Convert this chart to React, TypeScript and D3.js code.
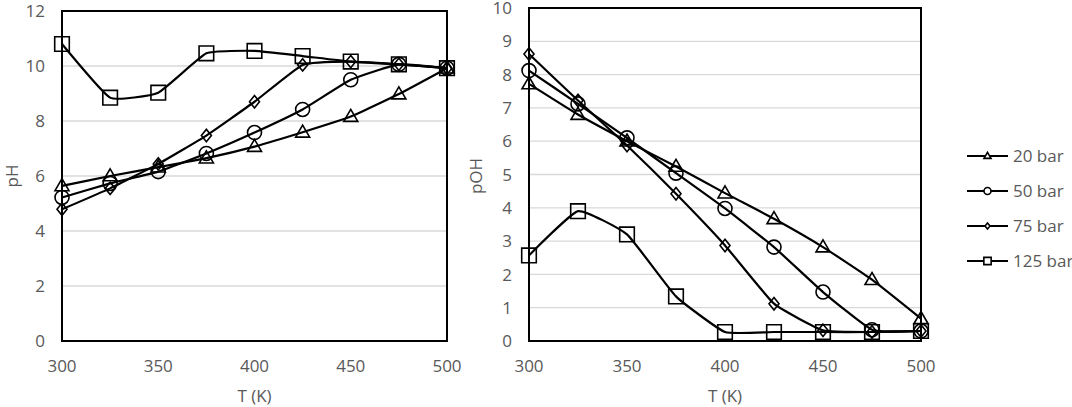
import React from 'react'
import * as d3 from 'd3'

// temperatures, K
const temps = [300, 325, 350, 375, 400, 425, 450, 475, 500]
const seriesNames = ['20 bar', '50 bar', '75 bar', '125 bar']
const markerKinds = ['triangle', 'circle', 'diamond', 'square']

// pH
const ph20 = [5.64, 6.0, 6.32, 6.65, 7.07, 7.59, 8.16, 8.98, 9.92]
const ph50 = [5.22, 5.73, 6.16, 6.82, 7.58, 8.42, 9.5, 10.06, 9.92]
const ph75 = [4.79, 5.55, 6.44, 7.47, 8.7, 10.04, 10.16, 10.06, 9.92]
const ph125 = [10.8, 8.85, 9.03, 10.46, 10.55, 10.36, 10.16, 10.06, 9.92]

// pOH
const poh20 = [7.72, 6.8, 6.0, 5.24, 4.44, 3.67, 2.82, 1.84, 0.67]
const poh50 = [8.12, 7.12, 6.1, 5.04, 3.98, 2.82, 1.47, 0.34, 0.3]
const poh75 = [8.62, 7.22, 5.87, 4.42, 2.87, 1.12, 0.32, 0.27, 0.3]
const poh125 = [2.57, 3.9, 3.2, 1.34, 0.27, 0.27, 0.27, 0.27, 0.3]

const xTicks = [300, 350, 400, 450, 500]
const phTicks = [0, 2, 4, 6, 8, 10, 12]
const pohTicks = [0, 1, 2, 3, 4, 5, 6, 7, 8, 9, 10]

const font = '"Open Sans", "Noto Sans", sans-serif'
const grey = '#595959'

// k = scale factor, 1 for the plot markers
const markerPath = (kind, k) => {
  if (kind === 'triangle') {
    const w = 7 * k
    const h = 12 * k
    return `M0,${-h * 0.6}L${w},${h * 0.4}L${-w},${h * 0.4}Z`
  }
  if (kind === 'diamond') {
    const w = 5 * k
    const h = 6.2 * k
    return `M0,${-h}L${w},0L0,${h}L${-w},0Z`
  }
  if (kind === 'square') {
    const h = 7.3 * k
    return `M${-h},${-h}H${h}V${h}H${-h}Z`
  }
  const path = d3.path()
  path.arc(0, 0, 7 * k, 0, Math.PI * 2)
  path.closePath()
  return path.toString()
}

const Panel = ({ left, right, top, bottom, yMax, yTicks, series, yLabel, yLabelX }) => {
  const x = d3.scaleLinear().domain([300, 500]).range([left, right])
  const y = d3.scaleLinear().domain([0, yMax]).range([bottom, top])
  const line = d3
    .line()
    .x((d) => x(d[0]))
    .y((d) => y(d[1]))
    .curve(d3.curveCardinal.tension(0.6))

  return (
    <g>
      {yTicks.map((t) => (
        <line key={'g' + t} x1={left} x2={right} y1={y(t)} y2={y(t)} stroke="#d9d9d9" strokeWidth={1.3} />
      ))}
      <rect x={left} y={top} width={right - left} height={bottom - top} fill="none" stroke="#000" strokeWidth={2} />
      {yTicks.map((t) => (
        <text key={'y' + t} x={left - 17} y={y(t)} dy="0.36em" textAnchor="end" fontSize={17} fill={grey} fontFamily={font}>
          {t}
        </text>
      ))}
      {xTicks.map((t) => (
        <text key={'x' + t} x={x(t)} y={372} textAnchor="middle" fontSize={17} fill={grey} fontFamily={font}>
          {t}
        </text>
      ))}
      <text x={(left + right) / 2} y={402} textAnchor="middle" fontSize={17} fill={grey} fontFamily={font}>
        T (K)
      </text>
      <text
        transform={`translate(${yLabelX},176) rotate(-90)`}
        dy="0.36em"
        textAnchor="middle"
        fontSize={17}
        fill={grey}
        fontFamily={font}
      >
        {yLabel}
      </text>
      {series.map((vals, i) => {
        const pts = temps.map((t, j) => [t, vals[j]])
        return (
          <g key={'s' + i}>
            <path d={line(pts)} fill="none" stroke="#000" strokeWidth={2.2} />
            {pts.map((p, j) => (
              <path
                key={j}
                transform={`translate(${x(p[0])},${y(p[1])})`}
                d={markerPath(markerKinds[i], 1)}
                fill="none"
                stroke="#000"
                strokeWidth={1.6}
              />
            ))}
          </g>
        )
      })}
    </g>
  )
}

const Legend = () => {
  const rows = d3.scaleLinear().domain([0, 3]).range([156, 261])
  return (
    <g>
      {seriesNames.map((name, i) => (
        <g key={name} transform={`translate(0,${rows(i)})`}>
          <line x1={967} x2={1008} y1={0} y2={0} stroke="#000" strokeWidth={2.2} />
          <path
            transform="translate(987.5,0)"
            d={markerPath(markerKinds[i], 0.5)}
            fill="#fff"
            stroke="#000"
            strokeWidth={1.6}
          />
          <text x={1013} y={0} dy="0.36em" fontSize={17} fill={grey} fontFamily={font}>
            {name}
          </text>
        </g>
      ))}
    </g>
  )
}

const App = () => (
  <svg
    width={1072}
    height={407}
    style={{ position: 'absolute', left: 0, top: 0, background: '#fff' }}
  >
    <rect width={1072} height={407} fill="#fff" />
    <Panel
      left={62}
      right={447}
      top={11}
      bottom={341}
      yMax={12}
      yTicks={phTicks}
      series={[ph20, ph50, ph75, ph125]}
      yLabel="pH"
      yLabelX={12}
    />
    <Panel
      left={529}
      right={921}
      top={8}
      bottom={341}
      yMax={10}
      yTicks={pohTicks}
      series={[poh20, poh50, poh75, poh125]}
      yLabel="pOH"
      yLabelX={476}
    />
    <Legend />
  </svg>
)

export default App
